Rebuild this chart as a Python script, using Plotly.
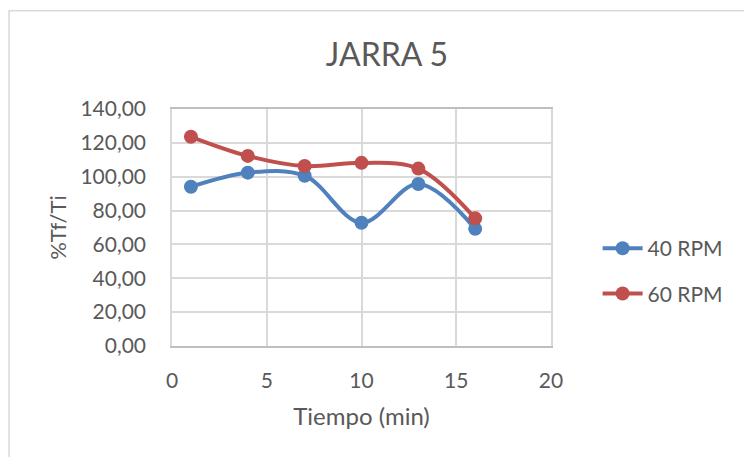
import plotly.graph_objects as go

# Tiempo (min) and %Tf/Ti
tiempo = [1, 4, 7, 10, 13, 16]
rpm_40 = [94.1, 102.4, 100.6, 72.8, 95.7, 69.2]
rpm_60 = [123.6, 112.3, 106.3, 108.2, 104.8, 75.4]

FONT = 'Lato'
GREY = '#595959'
GRID = '#D9D9D9'

fig = go.Figure()
fig.add_trace(go.Scatter(x=tiempo, y=rpm_40, name='40 RPM', mode='lines+markers',
                         legendgroup='a',
                         line=dict(color='#4F81BD', width=4, shape='spline', smoothing=1),
                         marker=dict(size=14, color='#4F81BD')))
fig.add_trace(go.Scatter(x=tiempo, y=rpm_60, name='60 RPM', mode='lines+markers',
                         legendgroup='b',
                         line=dict(color='#C0504D', width=4, shape='spline', smoothing=1),
                         marker=dict(size=14, color='#C0504D')))

# light outer chart border like the Excel frame
fig.add_shape(type='rect', xref='paper', yref='paper',
              x0=-0.43, x1=1.7, y0=-0.7, y1=1.415,
              line=dict(color='#D9D9D9', width=1.5), layer='below')

fig.update_layout(
    width=752, height=457,
    margin=dict(l=164, r=209, t=101, b=119),
    paper_bgcolor='white', plot_bgcolor='white',
    separators=',.',
    font=dict(family=FONT, color=GREY, size=21),
    title=dict(text='JARRA 5', x=0.504, xanchor='center', y=0.897, yanchor='middle',
               font=dict(family=FONT, size=32, color=GREY)),
    legend=dict(x=1.123, xanchor='left', y=0.316, yanchor='middle',
                font=dict(family=FONT, size=21, color=GREY),
                tracegroupgap=15, traceorder='grouped', itemwidth=40),
    showlegend=True,
)

fig.update_xaxes(range=[0, 20], dtick=5, tick0=0,
                 showgrid=True, gridcolor=GRID, gridwidth=1.5,
                 showline=True, linecolor='#BFBFBF', linewidth=1.5, mirror=True,
                 zeroline=False, ticks='', ticklabelstandoff=15,
                 title=dict(text='Tiempo (min)', font=dict(size=24, color=GREY), standoff=17))
fig.update_yaxes(range=[0, 140], dtick=20, tick0=0, tickformat='.2f',
                 showgrid=True, gridcolor=GRID, gridwidth=1.5,
                 showline=True, linecolor=GRID, linewidth=1.5, mirror=True,
                 zeroline=False, ticks='', ticklabelstandoff=20,
                 title=dict(text='%Tf/Ti', font=dict(size=22, color=GREY), standoff=8))

fig.write_html('out.html')
